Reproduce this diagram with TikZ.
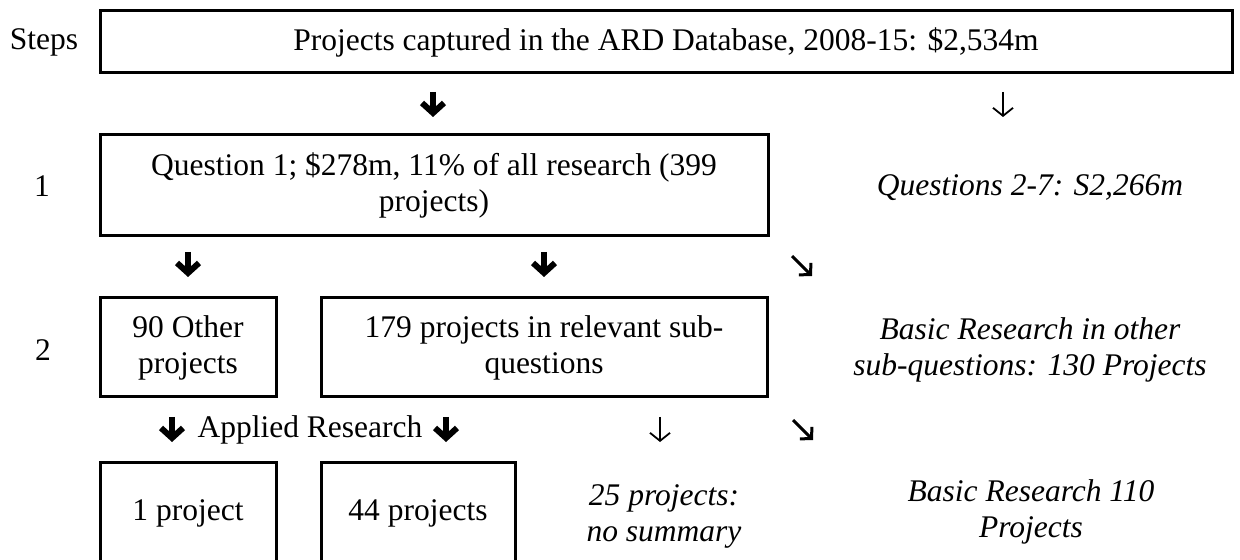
\documentclass[tikz,border=0pt]{standalone}
\usepackage{fontspec}
\setmainfont{Liberation Serif}
\usetikzlibrary{arrows.meta}
\begin{document}
\begin{tikzpicture}[x=0.5pt,y=-0.5pt,
  every node/.style={font=\fontsize{15.75pt}{18pt}\selectfont, inner sep=0pt, outer sep=0pt},
  box/.style={draw, line width=1.5pt, align=center},
  lab/.style={align=center},
  note/.style={align=center, font=\fontsize{15.75pt}{18pt}\selectfont\itshape},
  bigarrow/.style={line width=3pt, -{Straight Barb[length=5pt,width=11pt]}},
  thinarrow/.style={line width=0.9pt, -{Straight Barb[length=4pt,width=10pt]}},
  diagarrow/.style={line width=1.5pt, -{Straight Barb[length=4pt,width=8.5pt]}}]
\useasboundingbox (0,0) rectangle (1240,560);
% labels of steps
\node[lab] (steps) at (44,42) {Steps};
\node[lab] (s1) at (42,186) {1};
\node[lab] (s2) at (43,350) {2};
% boxes
\node[box, minimum width=566pt, minimum height=31pt] (top) at (666,42) {Projects captured in the ARD Database, 2008-15: \$2,534m};
\node[box, minimum width=334pt, minimum height=50.5pt] (q1) at (434,185.5) {Question 1; \$278m, 11\% of all research (399\\projects)};
\node[box, minimum width=88pt, minimum height=49.5pt] (other) at (188,347.5) {90 Other\\projects};
\node[box, minimum width=223pt, minimum height=49.5pt] (rel) at (544,347.5) {179 projects in relevant sub-\\questions};
\node[box, minimum width=88pt, minimum height=51pt] (one) at (188,513) {1 project};
\node[box, minimum width=97pt, minimum height=51pt] (ff) at (418,513) {44 projects};
% notes
\node[note] (q27) at (1030,188) {Questions 2-7: S2,266m};
\node[note] (b130) at (1030,350) {Basic Research in other\\sub-questions: 130 Projects};
\node[note] (nosum) at (664,516) {25 projects:\\no summary};
\node[note] (b110) at (1031,512) {Basic Research 110\\Projects};
\node[lab] (applied) at (310,430) {Applied Research};
% arrow coordinates
\coordinate (a1s) at (433,92);  \coordinate (a1e) at (433,117);
\coordinate (t1s) at (1003,92); \coordinate (t1e) at (1003,117);
\coordinate (a2s) at (188,252); \coordinate (a2e) at (188,277);
\coordinate (a3s) at (544,252); \coordinate (a3e) at (544,277);
\coordinate (d1s) at (792,256); \coordinate (d1e) at (812,276);
\coordinate (a4s) at (172,417); \coordinate (a4e) at (172,442);
\coordinate (a5s) at (446,417); \coordinate (a5e) at (446,442);
\coordinate (t2s) at (660,417); \coordinate (t2e) at (660,442);
\coordinate (d2s) at (793,420); \coordinate (d2e) at (813,440);
% arrows
\draw[bigarrow] (a1s) -- (a1e);
\draw[thinarrow] (t1s) -- (t1e);
\draw[bigarrow] (a2s) -- (a2e);
\draw[bigarrow] (a3s) -- (a3e);
\draw[diagarrow] (d1s) -- (d1e);
\draw[bigarrow] (a4s) -- (a4e);
\draw[bigarrow] (a5s) -- (a5e);
\draw[thinarrow] (t2s) -- (t2e);
\draw[diagarrow] (d2s) -- (d2e);
\end{tikzpicture}
\end{document}
